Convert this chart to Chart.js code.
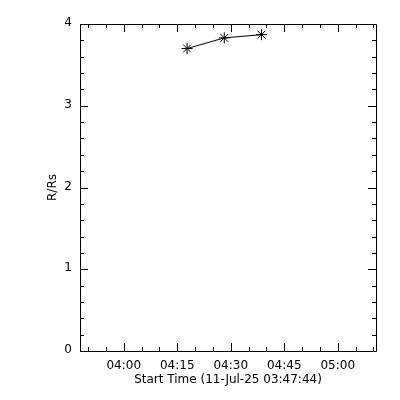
<!DOCTYPE html>
<html>
<head>
<meta charset="utf-8">
<script src="https://cdn.jsdelivr.net/npm/chart.js@4"></script>
<style>
  html, body { margin: 0; padding: 0; background: #fff; }
  canvas { display: block; }
</style>
</head>
<body>
<canvas id="rtChart" width="400" height="400"></canvas>
<script>
// data
const startTime = '03:47:44';
const endTime = '05:10:43';
const obsTimes = ['04:17:45', '04:28:11', '04:38:37'];
const radii = [3.70, 3.83, 3.87];
const xTickLabels = ['04:00', '04:15', '04:30', '04:45', '05:00'];
const yTickLabels = ['0', '1', '2', '3', '4'];

function toMinutes(t) {
    const p = t.split(':').map(Number);
    return p[0] * 60 + p[1] + (p[2] || 0) / 60;
}

function fmtTime(m) {
    const h = Math.floor(m / 60);
    const mm = Math.round(m - h * 60);
    return String(h).padStart(2, '0') + ':' + String(mm).padStart(2, '0');
}

const xMin = toMinutes(startTime);
const xMax = toMinutes(endTime);

// inward IDL-style tick marks + box
const idlBox = {
    id: 'idlBox',
    afterDraw(chart) {
        const ctx = chart.ctx;
        const a = chart.chartArea;
        const xs = chart.scales.x;
        const ys = chart.scales.y;
        ctx.save();
        ctx.strokeStyle = '#000';
        ctx.lineWidth = 1;
        ctx.beginPath();
        ctx.rect(Math.round(a.left) + 0.5, Math.round(a.top) + 0.5,
                 Math.round(a.right - a.left), Math.round(a.bottom - a.top));
        xs.ticks.forEach(t => {
            const major = xTickLabels.includes(fmtTime(t.value));
            const len = major ? 8 : 4;
            const px = Math.round(xs.getPixelForValue(t.value)) + 0.5;
            ctx.moveTo(px, a.bottom);
            ctx.lineTo(px, a.bottom - len);
            ctx.moveTo(px, a.top);
            ctx.lineTo(px, a.top + len);
        });
        ys.ticks.forEach(t => {
            const major = Math.abs(t.value - Math.round(t.value)) < 1e-6;
            const len = major ? 8 : 4;
            const py = Math.round(ys.getPixelForValue(t.value)) + 0.5;
            ctx.moveTo(a.left, py);
            ctx.lineTo(a.left + len, py);
            ctx.moveTo(a.right, py);
            ctx.lineTo(a.right - len, py);
        });
        ctx.stroke();
        ctx.restore();
    }
};

const ctx = document.getElementById('rtChart').getContext('2d');
const font = { family: 'DejaVu Sans', size: 12 };

new Chart(ctx, {
    type: 'line',
    data: {
        datasets: [{
            data: obsTimes.map((t, i) => ({ x: toMinutes(t), y: radii[i] })),
            borderColor: '#000',
            borderWidth: 1,
            pointStyle: 'star',
            pointRadius: 5.5,
            pointBorderColor: '#000',
            pointBorderWidth: 1,
            fill: false,
            tension: 0
        }]
    },
    options: {
        responsive: false,
        animation: false,
        layout: { padding: { top: 24, right: 24, left: 0, bottom: 0 } },
        plugins: {
            legend: { display: false },
            tooltip: { enabled: false }
        },
        scales: {
            x: {
                type: 'linear',
                min: xMin,
                max: xMax,
                grid: { display: false, drawTicks: false },
                border: { display: false },
                afterBuildTicks(scale) {
                    const ticks = [];
                    for (let m = Math.ceil(xMin / 5) * 5; m <= xMax; m += 5) ticks.push({ value: m });
                    scale.ticks = ticks;
                },
                afterFit(scale) { scale.height = 49; },
                ticks: {
                    autoSkip: false,
                    maxRotation: 0,
                    padding: 8,
                    color: '#000',
                    font: font,
                    callback: function(v) {
                        const s = fmtTime(v);
                        return xTickLabels.includes(s) ? s : '';
                    }
                },
                title: {
                    display: true,
                    text: 'Start Time (11-Jul-25 ' + startTime + ')',
                    color: '#000',
                    font: font,
                    padding: { top: 0, bottom: 13 }
                }
            },
            y: {
                min: 0,
                max: 4,
                grid: { display: false, drawTicks: false },
                border: { display: false },
                afterBuildTicks(scale) {
                    const ticks = [];
                    for (let i = 0; i <= 20; i++) ticks.push({ value: i * 0.2 });
                    scale.ticks = ticks;
                },
                afterFit(scale) { scale.width = 80; },
                ticks: {
                    autoSkip: false,
                    padding: 8,
                    labelOffset: -1,
                    color: '#000',
                    font: font,
                    callback: function(v) {
                        const r = Math.round(v);
                        return Math.abs(v - r) < 1e-6 ? yTickLabels[r] : '';
                    }
                },
                title: {
                    display: true,
                    text: 'R/Rs',
                    color: '#000',
                    font: font,
                    padding: { top: 46, bottom: 0 }
                }
            }
        }
    },
    plugins: [idlBox]
});
</script>
</body>
</html>
